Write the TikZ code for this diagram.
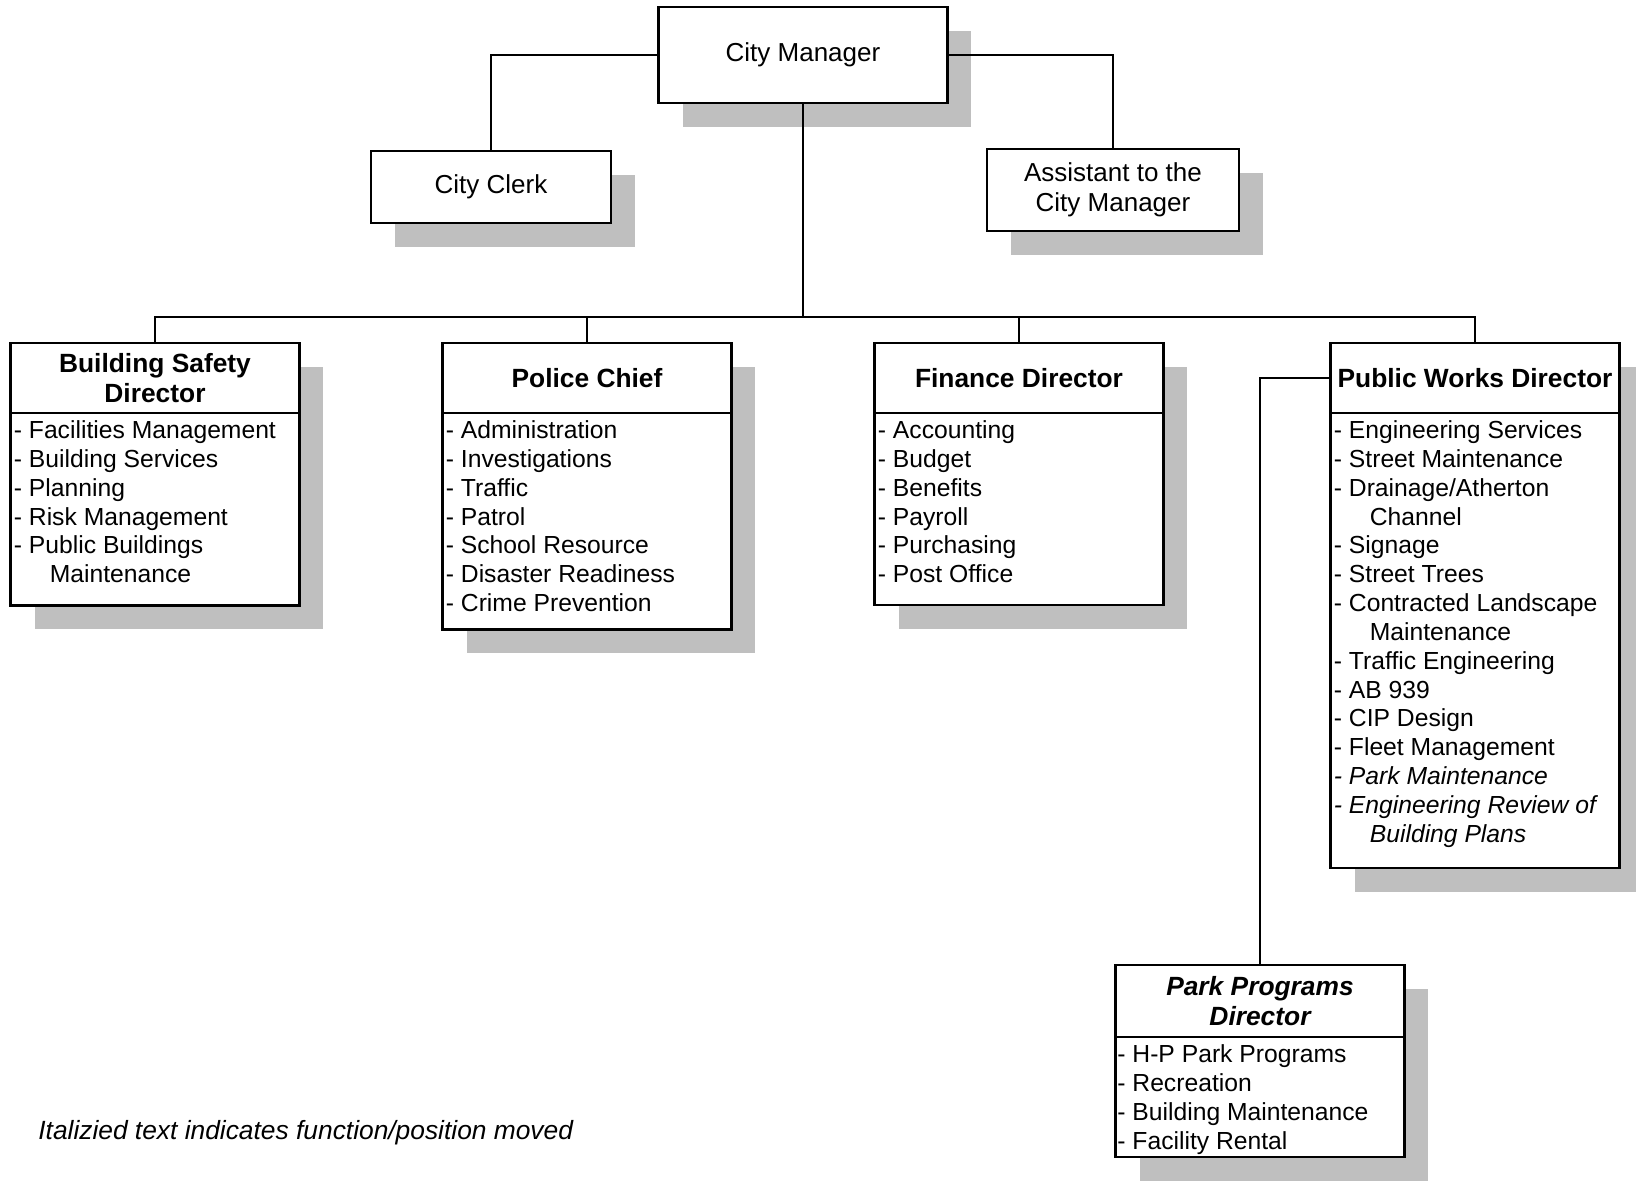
\documentclass[tikz,border=0pt]{standalone}
\usepackage{fontspec}
\setmainfont{Liberation Sans}
\usepackage{tikz}
\usetikzlibrary{positioning, shadows}

\tikzset{
    box/.style={draw, line width=1.25pt, fill=white, outer sep=0pt, inner sep=0pt, align=center,
        font=\fontsize{14.8}{17}\selectfont,
        drop shadow={shadow xshift=0.48cm, shadow yshift=-0.48cm, opacity=1, fill=black!25}},
    headbox/.style={box, minimum width=5.78cm, minimum height=1.4cm, font=\fontsize{15}{17.1}\selectfont\bfseries},
    listbox/.style={box, minimum width=5.78cm},
    items/.style={anchor=north west, align=left, inner xsep=0.06cm, inner ysep=0.15cm,
        font=\fontsize{14.05}{16.4}\selectfont},
    link/.style={line width=1pt},
}

\begin{document}
\begin{tikzpicture}[x=0.02cm, y=-0.02cm]
        \useasboundingbox (0,0) rectangle (1636,1180);

        \node[box, minimum width=5.78cm, minimum height=1.92cm] at (803, 55)    (cm) {City Manager};
        \node[box, minimum width=4.8cm, minimum height=1.44cm]  at (491, 187)   (clerk) {City Clerk};
        \node[box, minimum width=5.03cm, minimum height=1.64cm] at (1113, 190)  (asst) {Assistant to the\\City Manager};
        \coordinate (bus) at (803, 317);

        \node[headbox] at (155, 378)  (bsd) {Building Safety\\Director};
        \node[listbox, minimum height=3.85cm, below=0pt of bsd] (bsdbox) {};
        \node[items] at (bsdbox.north west) (bsdlist) {- Facilities Management\\- Building Services\\- Planning\\- Risk Management\\- Public Buildings\\\hspace*{0.72cm}Maintenance};

        \node[headbox] at (587, 378)  (pc) {Police Chief};
        \node[listbox, minimum height=4.33cm, below=0pt of pc] (pcbox) {};
        \node[items] at (pcbox.north west) (pclist) {- Administration\\- Investigations\\- Traffic\\- Patrol\\- School Resource\\- Disaster Readiness\\- Crime Prevention};

        \node[headbox] at (1019, 378) (fd) {Finance Director};
        \node[listbox, minimum height=3.84cm, below=0pt of fd] (fdbox) {};
        \node[items] at (fdbox.north west) (fdlist) {- Accounting\\- Budget\\- Benefits\\- Payroll\\- Purchasing\\- Post Office};

        \node[headbox] at (1475, 378) (pwd) {Public Works Director};
        \node[listbox, minimum height=9.1cm, below=0pt of pwd] (pwdbox) {};
        \node[items] at (pwdbox.north west) (pwdlist) {- Engineering Services\\- Street Maintenance\\- Drainage/Atherton\\\hspace*{0.72cm}Channel\\- Signage\\- Street Trees\\- Contracted Landscape\\\hspace*{0.72cm}Maintenance\\- Traffic Engineering\\- AB 939\\- CIP Design\\- Fleet Management\\{\itshape - Park Maintenance}\\{\itshape - Engineering Review of}\\\hspace*{0.72cm}{\itshape Building Plans}};

        \node[headbox, minimum height=1.45cm, font=\fontsize{15}{17.1}\selectfont\bfseries\itshape] at (1260, 1001) (ppd) {Park Programs\\Director};
        \node[listbox, minimum height=2.39cm, below=0pt of ppd] (ppdbox) {};
        \node[items, inner xsep=0.03cm] at (ppdbox.north west) (ppdlist) {- H-P Park Programs\\- Recreation\\- Building Maintenance\\- Facility Rental};

        \node[anchor=west, inner sep=0pt, font=\fontsize{15}{18}\selectfont\itshape] at (38, 1133) (note) {Italizied text indicates function/position moved};

        \draw [link] (cm.west) -| (clerk.north);
        \draw [link] (cm.east) -| (asst.north);
        \draw [link] (cm.south) -- (bus);
        \draw [link] (bsd.north) |- (pwd.north |- bus) -- (pwd.north);
        \draw [link] (pc.north) -- (pc.north |- bus);
        \draw [link] (fd.north) -- (fd.north |- bus);
        \draw [link] (pwd.west) -| (ppd.north);
    \end{tikzpicture}
\end{document}
